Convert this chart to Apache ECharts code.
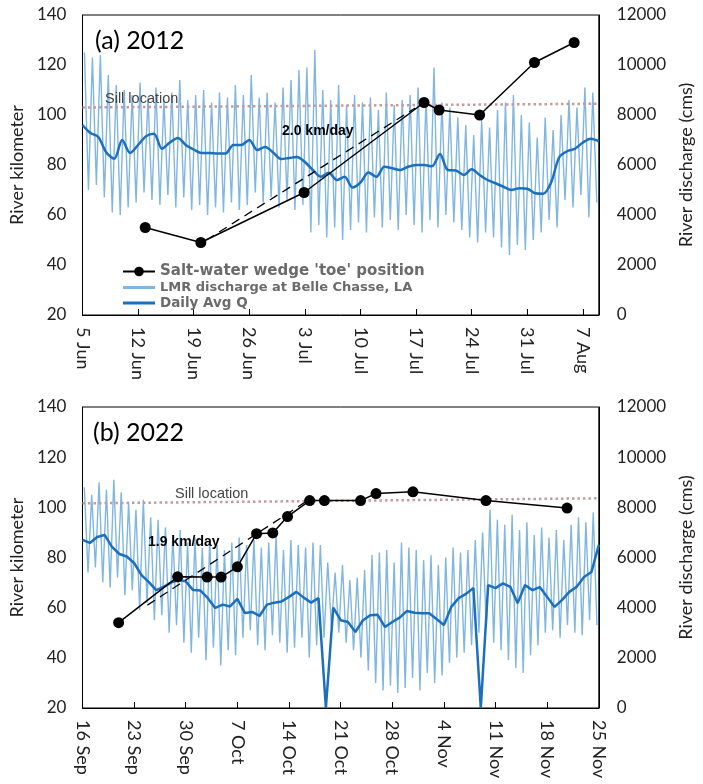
<!DOCTYPE html>
<html>
<head>
<meta charset="utf-8">
<script src="https://cdn.jsdelivr.net/npm/echarts@6/dist/echarts.min.js"></script>
<style>
  html, body { margin: 0; padding: 0; background: #fff; }
  #chart { width: 703px; height: 784px; }
</style>
</head>
<body>
<div id="chart"></div>
<script>
// ---- (a) 2012, x = days after 5 Jun ----
var ticksA = ['5 Jun', '12 Jun', '19 Jun', '26 Jun', '3 Jul', '10 Jul', '17 Jul', '24 Jul', '31 Jul', '7 Aug'];
var toeDayA = [7.9, 14.9, 27.9, 43, 44.9, 50, 56.9, 61.9];
var toeKmA = [55, 49, 69, 105, 102, 100, 121, 129];
var rateA = [[15.6, 50], [41.9, 102.8]];
var sillA = [[0, 103], [65, 104.5]];
// daily peak / trough of the tidal discharge signal (cms)
var qHighA = [10500, 10300, 10400, 9600, 9200, 9000, 8800, 9300, 8700, 9100,
  8600, 8900, 9400, 8600, 8800, 9000, 8500, 8900, 8700, 9200,
  8800, 9600, 8700, 8900, 8500, 9100, 9400, 9800, 9900, 10600,
  9000, 8600, 9200, 8400, 8800, 8500, 8700, 8200, 8900, 8400,
  8600, 8800, 9100, 8700, 9900, 8500, 8300, 7900, 7600, 7200,
  7800, 7500, 8200, 8500, 8800, 8000, 7700, 7100, 7900, 7400,
  8000, 8600, 8300, 9100, 8900];
var qLowA = [5000, 5200, 4700, 4100, 4000, 4300, 4500, 4900, 4600, 4400,
  4800, 4300, 4700, 4200, 4400, 4000, 4300, 4100, 4500, 4200,
  4400, 4900, 4500, 4700, 4300, 4600, 4200, 4400, 3300, 3600,
  3100, 3500, 3000, 3400, 3700, 3300, 3900, 3500, 3800, 3400,
  4000, 3600, 3300, 3800, 3500, 4000, 3700, 3400, 3100, 2900,
  3300, 3100, 2700, 2400, 2800, 2600, 3000, 3300, 3800, 3500,
  4600, 4300, 4800, 3900, 4500];
var avgA = [7600, 7280, 7120, 6500, 6250, 7000, 6480, 6800, 7150, 7250,
  6650, 6900, 7080, 6800, 6620, 6480, 6480, 6460, 6460, 6800,
  6800, 7000, 6600, 6720, 6500, 6240, 6280, 6320, 6120, 5800,
  5530, 5690, 5400, 5530, 5100, 5300, 5700, 5530, 5930, 5870,
  5800, 5930, 6000, 6000, 5950, 6440, 5800, 5780, 5600, 5830,
  5600, 5400, 5270, 5130, 5000, 5070, 5050, 4870, 4850, 5300,
  6300, 6550, 6650, 6900, 7050, 6950];

// ---- (b) 2022, x = days after 16 Sep ----
var ticksB = ['16 Sep', '23 Sep', '30 Sep', '7 Oct', '14 Oct', '21 Oct', '28 Oct', '4 Nov', '11 Nov', '18 Nov', '25 Nov'];
var toeDayB = [4.9, 12.9, 16.9, 18.8, 21, 23.6, 25.8, 27.8, 30.8, 32.8, 37.7, 39.8, 44.8, 54.7, 65.7];
var toeKmB = [54, 72.3, 72.2, 72.2, 76.3, 89.5, 89.8, 96.3, 102.7, 102.7, 102.7, 105.5, 106.2, 102.7, 99.7];
var rateB = [[8.8, 61], [30.3, 102.3]];
var sillB = [[0, 101.6], [70, 103.6]];
var qHighB = [8800, 8500, 9000, 8700, 9100, 8600, 8200, 7900, 8300, 7600,
  7500, 7200, 6900, 7100, 6600, 6800, 6400, 6700, 6500, 6300,
  6600, 6800, 6500, 6700, 6400, 6600, 6900, 6300, 6700, 6500,
  6400, 6600, 6500, 5800, 5400, 5700, 5100, 5200, 5500, 6100,
  6200, 6300, 5800, 6600, 6400, 6300, 5900, 6100, 5700, 6000,
  6400, 6200, 6300, 6700, 7000, 7900, 7500, 7300, 7700, 7100,
  7400, 6900, 7200, 6800, 7100, 6700, 7300, 7600, 7400, 7800];
var qLowB = [5400, 5600, 5000, 4800, 5200, 4500, 4700, 3900, 4200, 3500,
  3700, 3000, 3300, 2600, 2200, 2800, 1900, 2400, 1700, 2300,
  2100, 2800, 3100, 2500, 2300, 2900, 2600, 2200, 2400, 2800,
  2000, 2500, 2800, 3200, 3000, 2600, 2300, 2000, 1500, 1000,
  700, 900, 600, 800, 1200, 700, 1400, 1000, 1300, 1800,
  2000, 2200, 2500, 3000, 3200, 2600, 2300, 1900, 1600, 1400,
  2100, 2500, 3000, 3100, 2800, 3300, 3000, 2900, 3500, 3300];
var avgB = [6700, 6580, 6820, 6900, 6420, 6140, 6040, 5780, 5300, 5020,
  4700, 4830, 5000, 5100, 5050, 4700, 4680, 4380, 3990, 4120,
  4050, 4350, 3790, 3830, 3670, 4120, 4200, 4250, 4430, 4630,
  4400, 4200, 4380, 0, 4000, 3500, 3430, 3030, 3490, 3700,
  3720, 3230, 3430, 3600, 3870, 3800, 3780, 3780, 3550, 3310,
  4030, 4380, 4550, 4780, 0, 4900, 4780, 4970, 4830, 4180,
  4900, 4700, 4820, 4430, 4030, 4300, 4630, 4830, 5220, 5420, 6500];

var TOE = "Salt-water wedge 'toe' position";
var RAW = 'LMR discharge at Belle Chasse, LA';
var AVG = 'Daily Avg Q';
var LINE_ICON = 'path://M0,0H32V3H0Z';

function tidal(hi, lo) {
  var out = [];
  for (var i = 0; i < hi.length; i++) {
    out.push([i + 0.25, hi[i]]);
    out.push([i + 0.75, lo[i]]);
  }
  return out;
}
function daily(vals) {
  return vals.map(function(v, i) { return [i, v]; });
}
function pairs(xs, ys) {
  return xs.map(function(x, i) { return [x, ys[i]]; });
}

var labelFont = { fontFamily: 'Lato', fontSize: 17, color: '#222' };
var nameFont = { fontFamily: 'Lato', fontSize: 18, color: '#222' };

function xAxis(grid, max, ticks) {
  return {
    gridIndex: grid, type: 'value', min: 0, max: max, interval: 7,
    axisLine: { lineStyle: { color: '#000' } },
    axisTick: { inside: true, length: 6, lineStyle: { color: '#000' } },
    splitLine: { show: false },
    axisLabel: Object.assign({
      rotate: -90, margin: 12,
      formatter: function(v) { return v % 7 === 0 ? (ticks[v / 7] || '') : ''; }
    }, labelFont, { fontSize: 18 })
  };
}
function kmAxis(grid) {
  return {
    gridIndex: grid, type: 'value', position: 'left', min: 20, max: 140, interval: 20,
    name: 'River kilometer', nameLocation: 'middle', nameGap: 42, nameRotate: 90,
    nameTextStyle: nameFont,
    axisLine: { show: true, lineStyle: { color: '#000' } },
    axisTick: { show: false }, splitLine: { show: false },
    axisLabel: Object.assign({ margin: 16, formatter: '{value}' }, labelFont)
  };
}
function qAxis(grid) {
  return {
    gridIndex: grid, type: 'value', position: 'right', min: 0, max: 12000, interval: 2000,
    name: 'River discharge (cms)', nameLocation: 'middle', nameGap: 76, nameRotate: 90,
    nameTextStyle: nameFont,
    axisLine: { show: true, lineStyle: { color: '#000' } },
    axisTick: { show: false }, splitLine: { show: false },
    axisLabel: Object.assign({ margin: 18, formatter: function(v) { return String(v); } }, labelFont)
  };
}

function panelSeries(x, yKm, yQ, hi, lo, avg, toeD, toeK, rate, sill, smooth) {
  return [{
    name: RAW, type: 'line', xAxisIndex: x, yAxisIndex: yQ, data: tidal(hi, lo),
    symbol: 'none', lineStyle: { color: '#80b6e2', width: 1.4 }, itemStyle: { color: '#80b6e2' }, z: 2
  }, {
    name: AVG, type: 'line', xAxisIndex: x, yAxisIndex: yQ, data: daily(avg),
    symbol: 'none', smooth: smooth, lineStyle: { color: '#1b6fbf', width: 2.5 }, itemStyle: { color: '#1b6fbf' }, z: 3
  }, {
    type: 'line', xAxisIndex: x, yAxisIndex: yKm, data: sill, symbol: 'none',
    lineStyle: { color: '#c49a9a', width: 2.5, type: [2.5, 3] }, z: 4
  }, {
    type: 'line', xAxisIndex: x, yAxisIndex: yKm, data: rate, symbol: 'none',
    lineStyle: { color: '#000', width: 1.3, type: [9, 6] }, z: 5
  }, {
    name: TOE, type: 'line', xAxisIndex: x, yAxisIndex: yKm, data: pairs(toeD, toeK),
    symbol: 'circle', symbolSize: 11,
    lineStyle: { color: '#000', width: 1.5 }, itemStyle: { color: '#000' }, z: 6
  }];
}

function label(text, x, y, font, fill) {
  return { type: 'text', x: x, y: y, z: 100, style: { text: text, font: font, fill: fill || '#000' } };
}

var chart = echarts.init(document.getElementById('chart'));
chart.setOption({
  animation: false,
  backgroundColor: '#fff',
  grid: [
    { left: 80, top: 15, width: 520, height: 300, show: true, borderColor: '#000', borderWidth: 1 },
    { left: 77, top: 407, width: 526, height: 301, show: true, borderColor: '#000', borderWidth: 1 }
  ],
  xAxis: [xAxis(0, 65, ticksA), xAxis(1, 70, ticksB)],
  yAxis: [kmAxis(0), qAxis(0), kmAxis(1), qAxis(1)],
  legend: {
    orient: 'vertical', left: 117, top: 259, itemGap: 2, itemWidth: 32, itemHeight: 12,
    selectedMode: false,
    textStyle: { fontFamily: 'DejaVu Sans', fontWeight: 'bold', color: '#6b6b6b', fontSize: 13 },
    data: [
      { name: TOE, textStyle: { fontSize: 15 } },
      { name: RAW, icon: LINE_ICON, textStyle: { fontSize: 13 } },
      { name: AVG, icon: LINE_ICON, textStyle: { fontSize: 13.5 } }
    ]
  },
  graphic: [
    label('(a) 2012', 95, 28, '25px Lato'),
    label('(b) 2022', 93, 420, '25px Lato'),
    label('Sill location', 105, 91, '14.5px "Liberation Sans"', '#444'),
    label('Sill location', 175, 486, '14.5px "Liberation Sans"', '#444'),
    label('2.0 km/day', 282, 124, 'bold 14px "Liberation Sans"'),
    label('1.9 km/day', 148, 535, 'bold 14px "Liberation Sans"')
  ],
  series: [].concat(
    panelSeries(0, 0, 1, qHighA, qLowA, avgA, toeDayA, toeKmA, rateA, sillA, 0.3),
    panelSeries(1, 2, 3, qHighB, qLowB, avgB, toeDayB, toeKmB, rateB, sillB, false)
  )
});
</script>
</body>
</html>
